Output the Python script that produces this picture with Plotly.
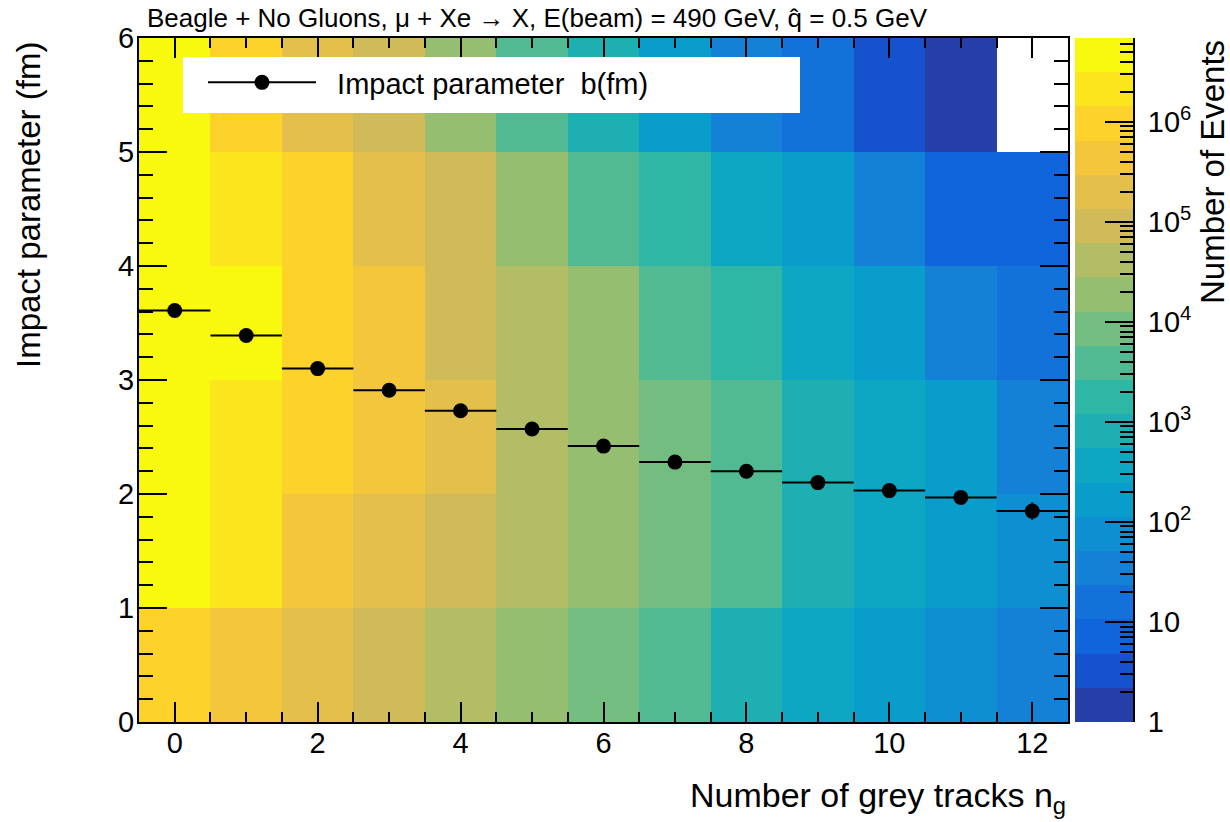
import numpy as np
import plotly.graph_objects as go

# ---------------- data ----------------
ng = list(range(13))                      # number of grey tracks (bin centres)
b_edges = [0, 1, 2, 3, 4, 5, 6]           # impact parameter bin edges (fm)

# event counts per (b bin, ng bin), rows from b=0-1 up to b=5-6
counts_b0_1 = [1020000, 465000, 212000, 93000, 42500, 19200, 8700, 3950, 820, 370, 170, 78, 35]
counts_b1_2 = [5200000, 2200000, 450000, 205000, 95000, 41000, 18500, 8400, 3800, 790, 360, 165, 74]
counts_b2_3 = [5900000, 2050000, 980000, 430000, 198000, 43000, 19000, 8200, 3700, 780, 350, 160, 36]
counts_b3_4 = [6300000, 3700000, 900000, 420000, 88000, 40000, 17800, 4100, 1800, 360, 170, 36, 16]
counts_b4_5 = [6870000, 2300000, 1050000, 215000, 96000, 19500, 4000, 1750, 380, 165, 34, 7, 6]
counts_b5_6 = [4300000, 1000000, 190000, 90000, 18000, 3900, 800, 160, 33, 15, 3, 1, 0]

# profile: mean impact parameter per ng bin
b_mean = [3.61, 3.39, 3.10, 2.91, 2.73, 2.57, 2.42, 2.28, 2.20, 2.10, 2.03, 1.97, 1.85]
b_err = [0.004, 0.005, 0.006, 0.008, 0.01, 0.013, 0.017, 0.022, 0.028, 0.035, 0.045, 0.055, 0.075]

cbar_tick_exp = [0, 1, 2, 3, 4, 5, 6]
cbar_tick_text = ["1", "10", "10<sup>2</sup>", "10<sup>3</sup>", "10<sup>4</sup>", "10<sup>5</sup>", "10<sup>6</sup>"]

title_text = "Beagle + No Gluons, \u03bc + Xe \u2192 X, E(beam) = 490 GeV, q\u0302 = 0.5 GeV"
legend_text = "\u00a0\u00a0Impact parameter\u00a0 b(fm)"

# ---------------- ROOT kBird palette, 20 contours ----------------
stops = [0.0000, 0.1250, 0.2500, 0.3750, 0.5000, 0.6250, 0.7500, 0.8750, 1.0000]
red = [0.2082, 0.0592, 0.0780, 0.0232, 0.1802, 0.5301, 0.8186, 0.9956, 0.9764]
green = [0.1664, 0.3599, 0.5041, 0.6419, 0.7178, 0.7492, 0.7328, 0.7862, 0.9832]
blue = [0.5293, 0.8684, 0.8385, 0.7914, 0.6425, 0.4662, 0.3499, 0.1968, 0.0539]
NCOL = 255
palette = []
for g in range(1, len(stops)):
    n = int(np.floor(NCOL * stops[g]) - np.floor(NCOL * stops[g - 1]))
    for c in range(n):
        f = c / n
        palette.append((red[g - 1] + f * (red[g] - red[g - 1]),
                        green[g - 1] + f * (green[g] - green[g - 1]),
                        blue[g - 1] + f * (blue[g] - blue[g - 1])))
NDIV = 20
band_cols = []
for i in range(NDIV):
    k = min(int((i + 0.99) * NCOL / NDIV), len(palette) - 1)
    r, g_, b_ = palette[k]
    band_cols.append(f"rgb({round(r*255)},{round(g_*255)},{round(b_*255)})")
colorscale = []
for i, c in enumerate(band_cols):
    colorscale.append([i / NDIV, c])
    colorscale.append([(i + 1) / NDIV, c])

# ---------------- derived ----------------
counts = np.array([counts_b0_1, counts_b1_2, counts_b2_3, counts_b3_4, counts_b4_5, counts_b5_6], dtype=float)
with np.errstate(divide="ignore"):
    logz = np.where(counts > 0, np.log10(np.where(counts > 0, counts, 1)), np.nan)
zmax = float(np.log10(counts.max()))
band_edges = np.linspace(0, zmax, NDIV + 1)
band_mid = ((band_edges[:-1] + band_edges[1:]) / 2).reshape(-1, 1)
minor_vals = [float(np.log10(k * 10 ** n)) for n in range(7) for k in range(2, 10) if np.log10(k * 10 ** n) <= zmax]

# ---------------- layout geometry (pixels) ----------------
W, H = 1230, 822
L, R, T, B = 139, 97, 38, 100
PW, PH = W - L - R, H - T - B
def px(x):
    return (x - L) / PW
def py(y):
    return (H - B - y) / PH

FONT = "Liberation Sans, Arial, Helvetica, sans-serif"

fig = go.Figure()

fig.add_trace(go.Heatmap(
    x=ng, y=b_edges, z=logz, zmin=0, zmax=zmax, colorscale=colorscale,
    showscale=False, hoverinfo="skip", xaxis="x", yaxis="y"))

fig.add_trace(go.Scatter(
    x=ng, y=b_mean, mode="markers", showlegend=False,
    marker=dict(color="black", size=15, symbol="circle"),
    error_x=dict(type="constant", value=0.5, color="black", thickness=2, width=0),
    error_y=dict(type="data", array=b_err, color="black", thickness=2, width=0),
    xaxis="x", yaxis="y"))

# legend proxy
fig.add_trace(go.Scatter(
    x=[None], y=[None], mode="lines+markers", name=legend_text,
    line=dict(color="black", width=2), marker=dict(color="black", size=15),
    xaxis="x", yaxis="y"))

# colour bar as its own heatmap
fig.add_trace(go.Heatmap(
    x=[0], y=band_edges, z=band_mid, zmin=0, zmax=zmax, colorscale=colorscale,
    showscale=False, hoverinfo="skip", xaxis="x2", yaxis="y2"))

axis_font = dict(family=FONT, size=29, color="black")

fig.update_layout(
    width=W, height=H, autosize=False,
    margin=dict(l=L, r=R, t=T, b=B, pad=0),
    paper_bgcolor="white", plot_bgcolor="white",
    font=dict(family=FONT, color="black"),
    xaxis=dict(domain=[0, px(1068)], range=[-0.5, 12.5], tick0=0, dtick=2,
               ticks="inside", ticklen=20, tickwidth=2, tickcolor="black",
               minor=dict(dtick=0.5, tick0=0, ticks="inside", ticklen=10, tickwidth=2, tickcolor="black"),
               showline=True, linewidth=2, linecolor="black", mirror="ticks",
               showgrid=False, zeroline=False, tickfont=axis_font, ticklabelstandoff=-6),
    yaxis=dict(domain=[0, 1], range=[0, 6], tick0=0, dtick=1,
               ticks="inside", ticklen=28, tickwidth=2, tickcolor="black",
               minor=dict(dtick=0.2, tick0=0, ticks="inside", ticklen=14, tickwidth=2, tickcolor="black"),
               showline=True, linewidth=2, linecolor="black", mirror="ticks",
               showgrid=False, zeroline=False, tickfont=axis_font, ticklabelstandoff=-3),
    xaxis2=dict(domain=[px(1075), 1], range=[-0.5, 0.5], anchor="y2", visible=False, fixedrange=True),
    yaxis2=dict(domain=[0, 1], range=[0, zmax], anchor="x2", side="right",
                tickmode="array", tickvals=cbar_tick_exp, ticktext=cbar_tick_text,
                ticks="inside", ticklen=28, tickwidth=2, tickcolor="black",
                minor=dict(tickmode="array", tickvals=minor_vals, ticks="inside",
                           ticklen=13, tickwidth=2, tickcolor="black"),
                showline=True, linewidth=2, linecolor="black",
                showgrid=False, zeroline=False, tickfont=axis_font, ticklabelstandoff=7),
    legend=dict(x=px(203), y=py(57), xanchor="left", yanchor="top",
                bgcolor="rgba(0,0,0,0)", borderwidth=0, itemwidth=108,
                font=dict(family=FONT, size=29, color="black")),
    shapes=[
        dict(type="rect", xref="paper", yref="paper", x0=px(183), x1=px(800),
             y0=py(113), y1=py(57), fillcolor="white", line=dict(width=0), layer="above"),
    ],
    annotations=[
        dict(text=title_text, xref="paper", yref="paper", x=px(145), y=py(18),
             xanchor="left", yanchor="middle", showarrow=False,
             font=dict(family=FONT, size=26, color="black")),
        dict(text="Number of grey tracks n<sub>g</sub>", xref="paper", yref="paper",
             x=px(1068), y=py(797), xanchor="right", yanchor="middle", showarrow=False,
             font=dict(family=FONT, size=34, color="black")),
        dict(text="Impact parameter (fm)", xref="paper", yref="paper", textangle=-90,
             x=px(29), y=py(40), xanchor="center", yanchor="top", showarrow=False,
             font=dict(family=FONT, size=33, color="black")),
        dict(text="Number of Events", xref="paper", yref="paper", textangle=-90,
             x=px(1212), y=py(38), xanchor="center", yanchor="top", showarrow=False,
             font=dict(family=FONT, size=33, color="black")),
    ],
)

fig.write_html("out.html")
